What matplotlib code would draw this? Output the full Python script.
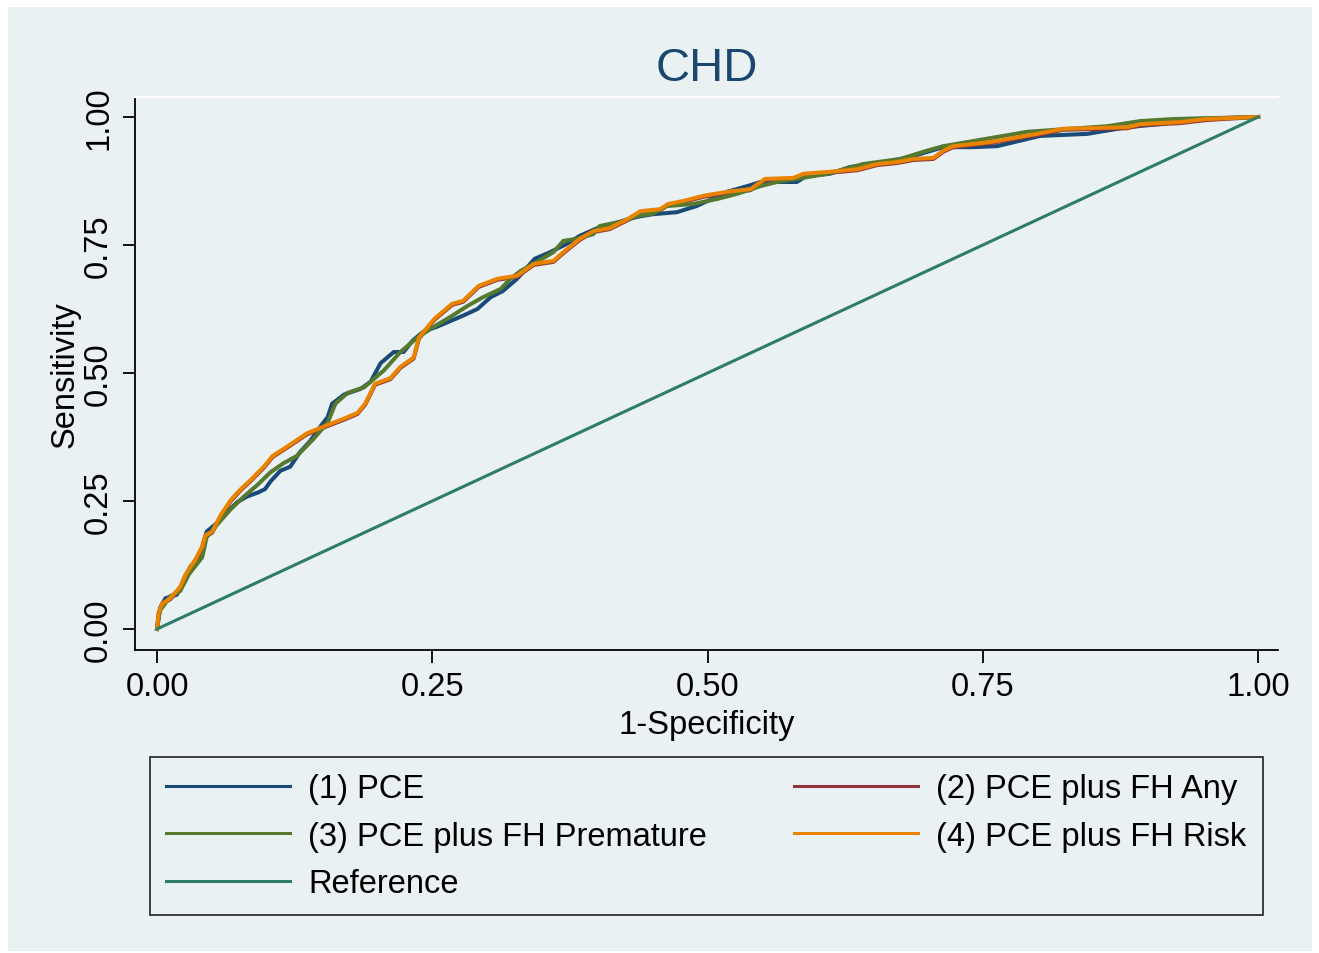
import numpy as np
import matplotlib.pyplot as plt
from matplotlib.patches import Rectangle

plt.rcParams['font.family'] = ['Liberation Sans', 'DejaVu Sans']

# ROC points: (1-specificity, sensitivity)
pce_x = [0, 0.003, 0.0076, 0.018, 0.024, 0.03, 0.039, 0.045, 0.055, 0.064, 0.073, 0.082, 0.091, 0.098,
         0.103, 0.112, 0.121, 0.13, 0.139, 0.15, 0.155, 0.159, 0.17, 0.185, 0.194, 0.203, 0.215, 0.224,
         0.232, 0.242, 0.255, 0.267, 0.279, 0.291, 0.303, 0.314, 0.327, 0.343, 0.357, 0.372, 0.384,
         0.402, 0.42, 0.436, 0.45, 0.472, 0.49, 0.518, 0.536, 0.548, 0.581, 0.59, 0.611, 0.629, 0.666,
         0.684, 0.714, 0.741, 0.763, 0.802, 0.845, 0.881, 0.911, 0.941, 1.0]
pce_y = [0, 0.042, 0.06, 0.067, 0.093, 0.121, 0.143, 0.19, 0.208, 0.23, 0.248, 0.259, 0.266, 0.273,
         0.288, 0.309, 0.317, 0.346, 0.367, 0.4, 0.414, 0.44, 0.458, 0.469, 0.483, 0.519, 0.541, 0.541,
         0.563, 0.581, 0.591, 0.602, 0.613, 0.625, 0.648, 0.66, 0.684, 0.723, 0.736, 0.752, 0.768,
         0.785, 0.795, 0.805, 0.81, 0.814, 0.826, 0.854, 0.865, 0.873, 0.873, 0.885, 0.889, 0.902, 0.914,
         0.922, 0.941, 0.941, 0.943, 0.963, 0.967, 0.98, 0.986, 0.996, 1.0]

any_x = [0, 0.0015, 0.0045, 0.012, 0.021, 0.026, 0.035, 0.041, 0.044, 0.05, 0.058, 0.067, 0.076, 0.085,
         0.097, 0.105, 0.118, 0.136, 0.152, 0.17, 0.182, 0.189, 0.198, 0.212, 0.221, 0.233, 0.238, 0.252,
         0.268, 0.278, 0.292, 0.309, 0.327, 0.342, 0.36, 0.369, 0.384, 0.396, 0.411, 0.427, 0.439, 0.457,
         0.464, 0.478, 0.496, 0.518, 0.539, 0.552, 0.578, 0.587, 0.611, 0.636, 0.654, 0.672, 0.687, 0.705,
         0.714, 0.723, 0.757, 0.799, 0.823, 0.881, 0.893, 0.929, 0.953, 1.0]
any_y = [0, 0.031, 0.049, 0.058, 0.08, 0.105, 0.134, 0.159, 0.181, 0.188, 0.221, 0.25, 0.271, 0.289,
         0.315, 0.336, 0.354, 0.38, 0.394, 0.409, 0.42, 0.438, 0.477, 0.488, 0.51, 0.528, 0.568, 0.604,
         0.633, 0.639, 0.668, 0.682, 0.688, 0.711, 0.717, 0.734, 0.76, 0.775, 0.781, 0.798, 0.814, 0.818,
         0.828, 0.834, 0.844, 0.852, 0.857, 0.877, 0.879, 0.887, 0.891, 0.896, 0.906, 0.91, 0.916, 0.918,
         0.932, 0.941, 0.949, 0.965, 0.975, 0.978, 0.984, 0.988, 0.994, 1.0]

prem_x = [0, 0.0024, 0.012, 0.021, 0.029, 0.041, 0.045, 0.055, 0.067, 0.079, 0.091, 0.103, 0.115, 0.127,
          0.142, 0.155, 0.162, 0.173, 0.188, 0.206, 0.221, 0.233, 0.242, 0.255, 0.266, 0.282, 0.296,
          0.312, 0.321, 0.33, 0.345, 0.36, 0.369, 0.381, 0.396, 0.402, 0.42, 0.436, 0.45, 0.463, 0.487,
          0.509, 0.527, 0.548, 0.563, 0.609, 0.641, 0.675, 0.699, 0.714, 0.763, 0.79, 0.863, 0.893, 0.923, 1.0]
prem_y = [0, 0.035, 0.064, 0.074, 0.107, 0.14, 0.179, 0.205, 0.234, 0.259, 0.281, 0.306, 0.324, 0.338,
          0.371, 0.403, 0.44, 0.461, 0.472, 0.505, 0.541, 0.563, 0.577, 0.595, 0.609, 0.631, 0.648,
          0.664, 0.684, 0.699, 0.717, 0.736, 0.758, 0.762, 0.771, 0.787, 0.795, 0.807, 0.811, 0.826, 0.83,
          0.84, 0.85, 0.865, 0.873, 0.889, 0.908, 0.918, 0.934, 0.943, 0.961, 0.971, 0.982, 0.992, 0.996, 1.0]

risk_x = [0, 0.0015, 0.0045, 0.012, 0.021, 0.026, 0.035, 0.041, 0.044, 0.05, 0.058, 0.067, 0.076, 0.085,
          0.097, 0.105, 0.118, 0.136, 0.152, 0.17, 0.182, 0.189, 0.198, 0.212, 0.221, 0.233, 0.238, 0.252,
          0.268, 0.278, 0.292, 0.309, 0.327, 0.342, 0.36, 0.369, 0.384, 0.396, 0.411, 0.427, 0.439, 0.457,
          0.464, 0.478, 0.496, 0.518, 0.539, 0.552, 0.578, 0.587, 0.611, 0.636, 0.654, 0.672, 0.687, 0.705,
          0.714, 0.723, 0.757, 0.799, 0.823, 0.881, 0.893, 0.929, 0.953, 1.0]
risk_y = [0, 0.031, 0.049, 0.06, 0.082, 0.107, 0.136, 0.161, 0.183, 0.19, 0.223, 0.252, 0.273, 0.291,
          0.317, 0.338, 0.356, 0.382, 0.396, 0.411, 0.422, 0.44, 0.479, 0.49, 0.512, 0.53, 0.57, 0.606,
          0.635, 0.641, 0.67, 0.684, 0.69, 0.713, 0.719, 0.736, 0.762, 0.777, 0.783, 0.8, 0.816, 0.82,
          0.83, 0.836, 0.846, 0.854, 0.859, 0.879, 0.881, 0.889, 0.893, 0.898, 0.908, 0.912, 0.918, 0.92,
          0.934, 0.943, 0.951, 0.967, 0.977, 0.98, 0.986, 0.99, 0.996, 1.0]

ref_x = [0, 1]
ref_y = [0, 1]

labels = ["(1) PCE", "(2) PCE plus FH Any", "(3) PCE plus FH Premature",
          "(4) PCE plus FH Risk", "Reference"]
colors = ["#1A4A78", "#90353B", "#55792F", "#E98300", "#2E7C69"]
ticks = [0, 0.25, 0.5, 0.75, 1.0]
tick_labels = ["0.00", "0.25", "0.50", "0.75", "1.00"]

bg = "#EAF1F3"
fs = 23.5
fig = plt.figure(figsize=(13.19, 9.54), dpi=100, facecolor="white")
fig.patches.append(Rectangle((8/1319, 2/954), 1304/1319, 944/954, transform=fig.transFigure,
                             facecolor=bg, edgecolor="none", zorder=-10))

ax = fig.add_axes([135/1319, 1-651/954, 1143/1319, 553/954])
ax.set_facecolor(bg)

series = [(pce_x, pce_y), (any_x, any_y), (prem_x, prem_y), (risk_x, risk_y)]
lines = []
for (xs, ys), c, lab in zip(series, colors[:4], labels[:4]):
    l, = ax.plot(xs, ys, color=c, lw=2.9, label=lab)
    lines.append(l)
l, = ax.plot(ref_x, ref_y, color=colors[4], lw=2.2, label=labels[4])
lines.append(l)

ax.set_xlim(-0.02, 1.018)
ax.set_ylim(-0.041, 1.039)
ax.set_xticks(ticks)
ax.set_xticklabels(tick_labels)
ax.set_yticks(ticks)
ax.set_yticklabels(tick_labels, rotation=90, va="center")
ax.tick_params(axis="both", labelsize=fs, length=9, width=1.3, direction="out", pad=6)
for s in ["left", "bottom"]:
    ax.spines[s].set_linewidth(1.3)
ax.spines["top"].set_color("white")
ax.spines["top"].set_linewidth(1.5)
ax.spines["right"].set_visible(False)

ax.set_xlabel("1-Specificity", fontsize=fs, labelpad=5)
ax.set_ylabel("Sensitivity", fontsize=fs, labelpad=2)
fig.text(707/1319, 1-69/954, "CHD", fontsize=34, color="#1A476F", ha="center", va="center")

order = [0, 2, 4, 1, 3]
leg = fig.legend([lines[i] for i in order], [labels[i] for i in order],
                 loc="upper left", bbox_to_anchor=(150/1319, 1-912/954, 1113/1319, 154/954),
                 borderaxespad=0, mode="expand", ncol=2, fontsize=fs, frameon=True, fancybox=False,
                 handlelength=3.8, handletextpad=0.55, labelspacing=0.5, borderpad=0.5,
                 columnspacing=1.0)
leg.get_frame().set_edgecolor("black")
leg.get_frame().set_linewidth(1.3)
leg.get_frame().set_facecolor(bg)
for h in leg.get_lines():
    h.set_linewidth(2.2)

fig.savefig("out.png", dpi=100, facecolor="white")
